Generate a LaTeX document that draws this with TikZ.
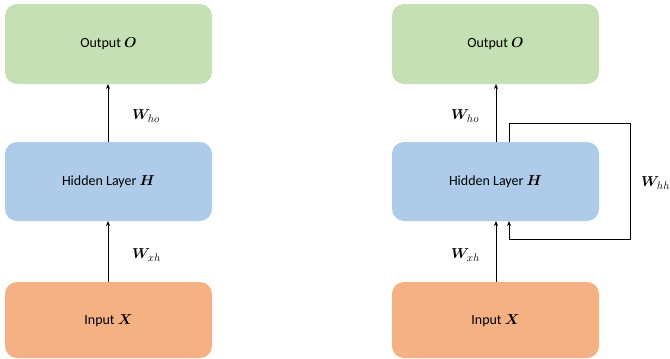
\documentclass[tikz,border=0pt]{standalone}
\usepackage{amsmath,bm}
\usepackage{fontspec}
\setmainfont{Carlito}
\usetikzlibrary{arrows.meta}
\definecolor{outgreen}{RGB}{197,224,180}
\definecolor{hidblue}{RGB}{174,204,234}
\definecolor{inorange}{RGB}{244,177,131}
\begin{document}
\begin{tikzpicture}[x=1pt,y=-1pt,
  layer/.style={rounded corners=12pt,draw=none},
  lbl/.style={font=\fontsize{14}{16}\selectfont},
  wlbl/.style={font=\fontsize{15}{17}\selectfont, anchor=west, inner sep=0pt},
  conn/.style={line width=0.9pt,-{Stealth[length=5pt,width=4pt]}},
  loopline/.style={line width=0.9pt}]
\useasboundingbox (0,0) rectangle (670,359);
% left network
\fill[layer,outgreen] (5,4) rectangle (212,84);
\fill[layer,hidblue] (5,142) rectangle (212,221);
\fill[layer,inorange] (5,282) rectangle (212,358);
\node[lbl] (o1) at (108.5,44) {Output $\bm{O}$};
\node[lbl] (h1) at (108.5,182) {Hidden Layer $\bm{H}$};
\node[lbl] (x1) at (108.5,321) {Input $\bm{X}$};
\coordinate (o1b) at (108,84);
\coordinate (h1t) at (108,142);
\coordinate (h1b) at (108,221);
\coordinate (x1t) at (108,282);
\draw[conn] (h1t) -- (o1b);
\draw[conn] (x1t) -- (h1b);
\node[wlbl] (who1) at (132,116) {$\bm{W}_{ho}$};
\node[wlbl] (wxh1) at (132,255) {$\bm{W}_{xh}$};
% right network with recurrence
\fill[layer,outgreen] (392,4) rectangle (599,84);
\fill[layer,hidblue] (392,142) rectangle (599,221);
\fill[layer,inorange] (392,282) rectangle (599,358);
\node[lbl] (o2) at (495.5,44) {Output $\bm{O}$};
\node[lbl] (h2) at (495.5,182) {Hidden Layer $\bm{H}$};
\node[lbl] (x2) at (495.5,321) {Input $\bm{X}$};
\coordinate (o2b) at (496,84);
\coordinate (h2t) at (496,142);
\coordinate (h2b) at (496,221);
\coordinate (x2t) at (496,282);
\draw[conn] (h2t) -- (o2b);
\draw[conn] (x2t) -- (h2b);
\coordinate (r0) at (509,142);
\coordinate (r1) at (509,123.5);
\coordinate (r2) at (630,123.5);
\coordinate (r3) at (630,239);
\coordinate (r4) at (509,239);
\coordinate (r5) at (509,221);
\draw[loopline] (r0) -- (r1) -- (r2) -- (r3) -- (r4);
\draw[conn] (r4) -- (r5);
\node[wlbl] (who2) at (451,116) {$\bm{W}_{ho}$};
\node[wlbl] (wxh2) at (451,255) {$\bm{W}_{xh}$};
\node[wlbl] (whh) at (641,183) {$\bm{W}_{hh}$};
\end{tikzpicture}
\end{document}
